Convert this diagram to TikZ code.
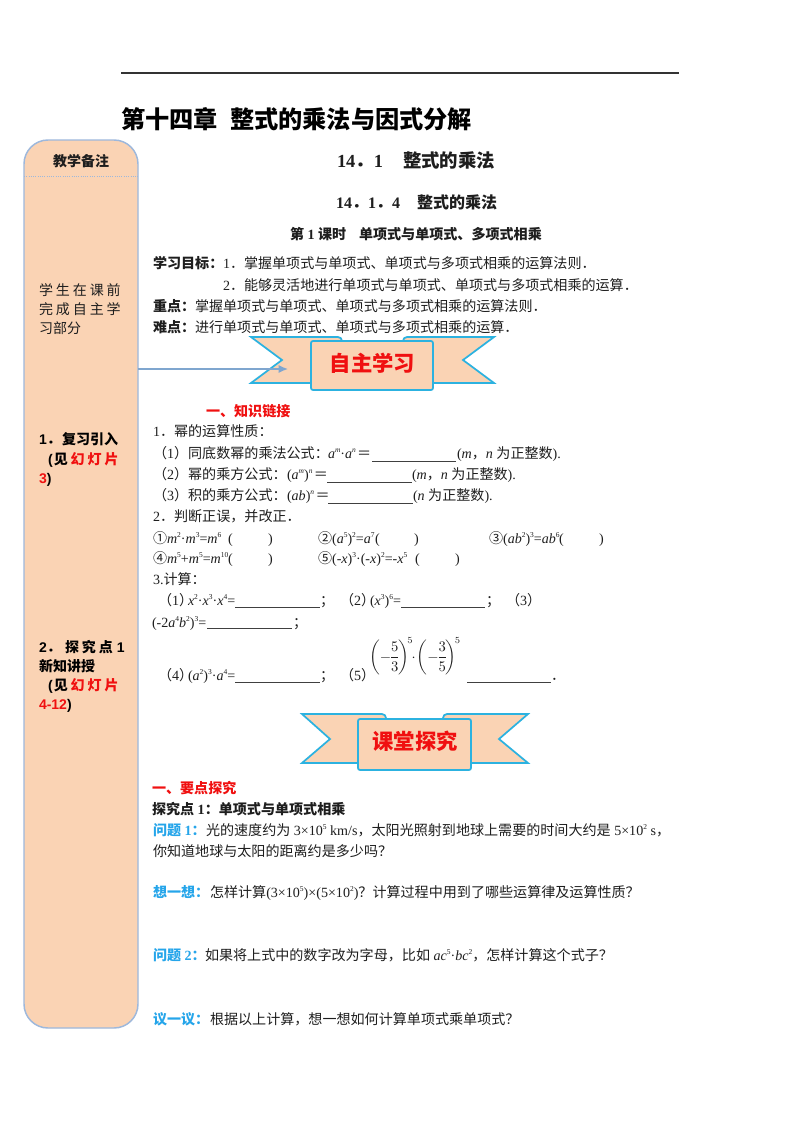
\documentclass[tikz,border=0pt]{standalone}
\usepackage{amsmath}
\usepackage{fontspec}
\setmainfont{Liberation Serif}
\setsansfont{Liberation Sans}
\newfontfamily\cjk{Noto Sans CJK SC}
\newfontfamily\cjksp[LetterSpace=21]{Noto Sans CJK SC}
\newcommand{\z}[1]{{\cjk #1}}
\newcommand{\zs}[1]{{\cjksp #1}}
\newcommand{\sq}[1]{\raisebox{0.42em}{\fontsize{5.6}{6}\selectfont #1}}
\newcommand{\vv}[1]{\textit{#1}}
\definecolor{peach}{HTML}{FAD3B4}
\definecolor{ribbon}{HTML}{2CB2E0}
\definecolor{sideline}{HTML}{9DB8DC}
\definecolor{arrowblue}{HTML}{7FA6CF}
\definecolor{redtxt}{HTML}{F01010}
\definecolor{bluetxt}{HTML}{25A5EA}
\definecolor{bodytxt}{HTML}{1E1E1E}
\usetikzlibrary{arrows.meta}
\tikzset{
  txt/.style={anchor=base west,inner sep=0pt,outer sep=0pt,text=bodytxt,font=\fontsize{10.55}{12}\selectfont},
  bld/.style={txt,font=\fontsize{10.55}{12}\selectfont\bfseries},
  side/.style={txt,font=\fontsize{10.5}{12}\selectfont},
  sideb/.style={txt,text=black,font=\fontsize{10.5}{12}\selectfont\bfseries\sffamily},
  ban/.style={fill=peach,draw=ribbon,line width=1.3pt,line join=miter},
  bantxt/.style={anchor=center,inner sep=0pt,text=redtxt,font=\fontsize{16}{18}\selectfont\bfseries},
  blank/.style={line width=0.6pt,draw=black!75},
}
\begin{document}
\begin{tikzpicture}[x=0.75pt,y=-0.75pt]
\useasboundingbox (0,0) rectangle (800,1132);
\fill[white] (0,0) rectangle (800,1132);
% top rule and title
\draw[line width=1.1pt,draw=black!80] (121,73) -- (679,73);
\node[bld,text=black,font=\fontsize{18.15}{20}\selectfont\bfseries] (title) at (121,128) {\z{第十四章}};
\node[bld,text=black,font=\fontsize{18.15}{20}\selectfont\bfseries] (title2) at (230,128) {\z{整式的乘法与因式分解}};
% side bar
\draw[fill=peach,draw=sideline,line width=1.1pt,rounded corners=18pt] (24,140) rectangle (138,1028);
\draw[draw=sideline,line width=0.7pt,densely dotted] (24,176) -- (138,176);
\node[bld,anchor=base,font=\fontsize{10.5}{12}\selectfont\bfseries] (note) at (81,166) {\z{教学备注}};
\node[side] (s1) at (39,295) {\zs{学生在课前}};
\node[side] (s2) at (39,314) {\zs{完成自主学}};
\node[side] (s3) at (39,333) {\z{习部分}};
\node[sideb] (s4) at (39,444) {1\z{．}};
\node[sideb] (s4b) at (62,444) {\z{复习引入}};
\node[sideb] (s5) at (48,464) {(\hspace{1pt}\z{见}\hspace{2pt}\textcolor{redtxt}{\zs{幻灯片}}};
\node[sideb] (s6) at (39,483) {\textcolor{redtxt}{3})};
\node[sideb] (s7) at (39,652) {2\z{．}};
\node[sideb] (s7b) at (65,652) {\zs{探究点} 1};
\node[sideb] (s8) at (39,671) {\z{新知讲授}};
\node[sideb] (s9) at (48,690) {(\hspace{1pt}\z{见}\hspace{2pt}\textcolor{redtxt}{\zs{幻灯片}}};
\node[sideb] (s10) at (39,709) {\textcolor{redtxt}{4-12})};
% headings
\node[bld,font=\fontsize{13.8}{16}\selectfont\bfseries] (h1) at (337,167) {14\z{．}1};
\node[bld,font=\fontsize{13.8}{16}\selectfont\bfseries] (h1b) at (403,167) {\z{整式的乘法}};
\node[bld,font=\fontsize{12}{14}\selectfont\bfseries] (h2) at (336,208) {14\z{．}1\z{．}4};
\node[bld,font=\fontsize{12}{14}\selectfont\bfseries] (h2b) at (417,208) {\z{整式的乘法}};
\node[bld,font=\fontsize{10.55}{12}\selectfont\bfseries] (h3) at (290,239) {\z{第} 1 \z{课时}};
\node[bld,font=\fontsize{10.55}{12}\selectfont\bfseries] (h3b) at (359,239) {\z{单项式与单项式、多项式相乘}};
% goals
\node[bld] (g1) at (153,268) {\z{学习目标：}};
\node[txt] (g2) at (223,268) {1\z{．}};
\node[txt] (g3) at (244,268) {\z{掌握单项式与单项式、单项式与多项式相乘的运算法则．}};
\node[txt] (g4) at (223,290) {2\z{．}};
\node[txt] (g5) at (244,290) {\z{能够灵活地进行单项式与单项式、单项式与多项式相乘的运算．}};
\node[bld] (g6) at (153,311) {\z{重点：}};
\node[txt] (g7) at (195,311) {\z{掌握单项式与单项式、单项式与多项式相乘的运算法则．}};
\node[bld] (g8) at (153,332) {\z{难点：}};
\node[txt] (g9) at (195,332) {\z{进行单项式与单项式、单项式与多项式相乘的运算．}};
% banner 1
\draw[ban] (311,383) -- (251,383) -- (282,360) -- (251,337) -- (338,337) to[out=0,in=90] (342,341) -- (342,350) -- (311,350) -- cycle;
\draw[ban] (433,383) -- (494,383) -- (463,360) -- (494,337) -- (407,337) to[out=180,in=90] (403,341) -- (403,350) -- (433,350) -- cycle;
\draw[ban,rounded corners=1.5pt] (311,341) rectangle (433,390);
\node[bantxt] (b1) at (372.5,363.5) {\z{自主学习}};
% arrow
\coordinate (arrS) at (138,369);
\coordinate (arrE) at (288,369);
\draw[draw=arrowblue,line width=1pt,-{Latex[length=7pt,width=6pt]}] (arrS) -- (arrE);
% section 1
\node[bld,text=redtxt] (k0) at (206,416) {\z{一、知识链接}};
\node[txt] (k1) at (153,436) {1\z{．幂的运算性质：}};
\node[txt] (k2) at (153,458) {\z{（}1\z{）同底数幂的乘法公式：}};
\node[txt] (k2f) at (328,458) {\vv{a}\sq{\vv{m}}·\vv{a}\sq{\vv{n}}\hspace{1pt}\z{＝}};
\draw[blank] (372,461) -- (456,461);
\node[txt] (k2b) at (457,458) {(\vv{m}\z{，}\vv{n} \z{为正整数}).};
\node[txt] (k3) at (153,479) {\z{（}2\z{）幂的乘方公式：}};
\node[txt] (k3f) at (287,479) {(\vv{a}\sq{\vv{m}})\sq{\vv{n}}\hspace{1pt}\z{＝}};
\draw[blank] (327,482) -- (412,482);
\node[txt] (k3b) at (412,479) {(\vv{m}\z{，}\vv{n} \z{为正整数}).};
\node[txt] (k4) at (153,500) {\z{（}3\z{）积的乘方公式：}};
\node[txt] (k4f) at (287,500) {(\vv{ab})\sq{\vv{n}}\hspace{1pt}\z{＝}};
\draw[blank] (328,503) -- (413,503);
\node[txt] (k4b) at (413,500) {(\vv{n} \z{为正整数}).};
\node[txt] (k5) at (153,521) {2\z{．判断正误，并改正．}};
% judgement
\node[txt] (j1) at (153,543) {\z{①}\vv{m}\sq{2}·\vv{m}\sq{3}=\vv{m}\sq{6}};
\node[txt] (j1a) at (228,543) {(};
\node[txt] (j1b) at (268,543) {)};
\node[txt] (j2) at (318,543) {\z{②}(\vv{a}\sq{5})\sq{2}=\vv{a}\sq{7}};
\node[txt] (j2a) at (375,543) {(};
\node[txt] (j2b) at (414,543) {)};
\node[txt] (j3) at (489,543) {\z{③}(\vv{ab}\sq{2})\sq{3}=\vv{ab}\sq{6}};
\node[txt] (j3a) at (559,543) {(};
\node[txt] (j3b) at (599,543) {)};
\node[txt] (j4) at (153,563) {\z{④}\vv{m}\sq{5}+\vv{m}\sq{5}=\vv{m}\sq{10}};
\node[txt] (j4a) at (228,563) {(};
\node[txt] (j4b) at (268,563) {)};
\node[txt] (j5) at (318,563) {\z{⑤}(-\vv{x})\sq{3}·(-\vv{x})\sq{2}=-\vv{x}\sq{5}};
\node[txt] (j5a) at (415,563) {(};
\node[txt] (j5b) at (455,563) {)};
% calculation
\node[txt] (c0) at (153,584) {3.\z{计算：}};
\node[txt] (c1) at (158,605) {\z{（}1\z{）}};
\node[txt] (c1f) at (188,605) {\vv{x}\sq{2}·\vv{x}\sq{3}·\vv{x}\sq{4}=};
\draw[blank] (235,607) -- (320,607);
\node[txt] (c1b) at (320,605) {\z{；}};
\node[txt] (c2) at (340,605) {\z{（}2\z{）}};
\node[txt] (c2f) at (370,605) {(\vv{x}\sq{3})\sq{6}=};
\draw[blank] (401,607) -- (485,607);
\node[txt] (c2b) at (486,605) {\z{；}};
\node[txt] (c3) at (506,605) {\z{（}3\z{）}};
\node[txt] (c4) at (152,627) {(-2\vv{a}\sq{4}\vv{b}\sq{2})\sq{3}=};
\draw[blank] (207,628) -- (292,628);
\node[txt] (c4b) at (293,627) {\z{；}};
\node[txt] (c5) at (158,680) {\z{（}4\z{）}};
\node[txt] (c5f) at (188,680) {(\vv{a}\sq{2})\sq{3}·\vv{a}\sq{4}=};
\draw[blank] (235,682) -- (320,682);
\node[txt] (c5b) at (320,680) {\z{；}};
\node[txt] (c6) at (340,680) {\z{（}5\z{）}};
\node[txt,anchor=west] (c7) at (369,656) {\nulldelimiterspace=0pt$\displaystyle\left(-\frac{5}{3}\right)^{\!5}\!\!\cdot\!\left(-\frac{3}{5}\right)^{\!5}$};
\draw[blank] (467,682) -- (551,682);
\node[txt] (c8) at (551,680) {\z{．}};
% banner 2
\draw[ban] (358,763) -- (302,763) -- (330,739) -- (302,714) -- (382,714) to[out=0,in=90] (386,718) -- (386,728) -- (358,728) -- cycle;
\draw[ban] (471,763) -- (528,763) -- (499,739) -- (528,714) -- (447,714) to[out=180,in=90] (443,718) -- (443,728) -- (471,728) -- cycle;
\draw[ban,rounded corners=1.5pt] (358,719) rectangle (471,770);
\node[bantxt] (b2) at (415,741) {\z{课堂探究}};
% section 2
\node[bld,text=redtxt] (e0) at (152,793) {\z{一、要点探究}};
\node[bld] (e1) at (152,814) {\z{探究点} 1\z{：单项式与单项式相乘}};
\node[bld,text=bluetxt] (q1) at (153,835) {\z{问题} 1\z{：}};
\node[txt] (q1b) at (206,835) {\z{光的速度约为} 3×10\sq{5} km/s\z{，太阳光照射到地球上需要的时间大约是} 5×10\sq{2} s\z{，}};
\node[txt] (q1c) at (153,856) {\z{你知道地球与太阳的距离约是多少吗？}};
\node[bld,text=bluetxt] (q2) at (153,897) {\z{想一想：}};
\node[txt] (q2b) at (210,897) {\z{怎样计算}(3×10\sq{5})×(5×10\sq{2})\z{？计算过程中用到了哪些运算律及运算性质？}};
\node[bld,text=bluetxt] (q3) at (153,960) {\z{问题} 2\z{：}};
\node[txt] (q3b) at (205,960) {\z{如果将上式中的数字改为字母，比如} \vv{ac}\sq{5}·\vv{bc}\sq{2}\z{，怎样计算这个式子？}};
\node[bld,text=bluetxt] (q4) at (153,1024) {\z{议一议：}};
\node[txt] (q4b) at (210,1024) {\z{根据以上计算，想一想如何计算单项式乘单项式？}};
\end{tikzpicture}
\end{document}
